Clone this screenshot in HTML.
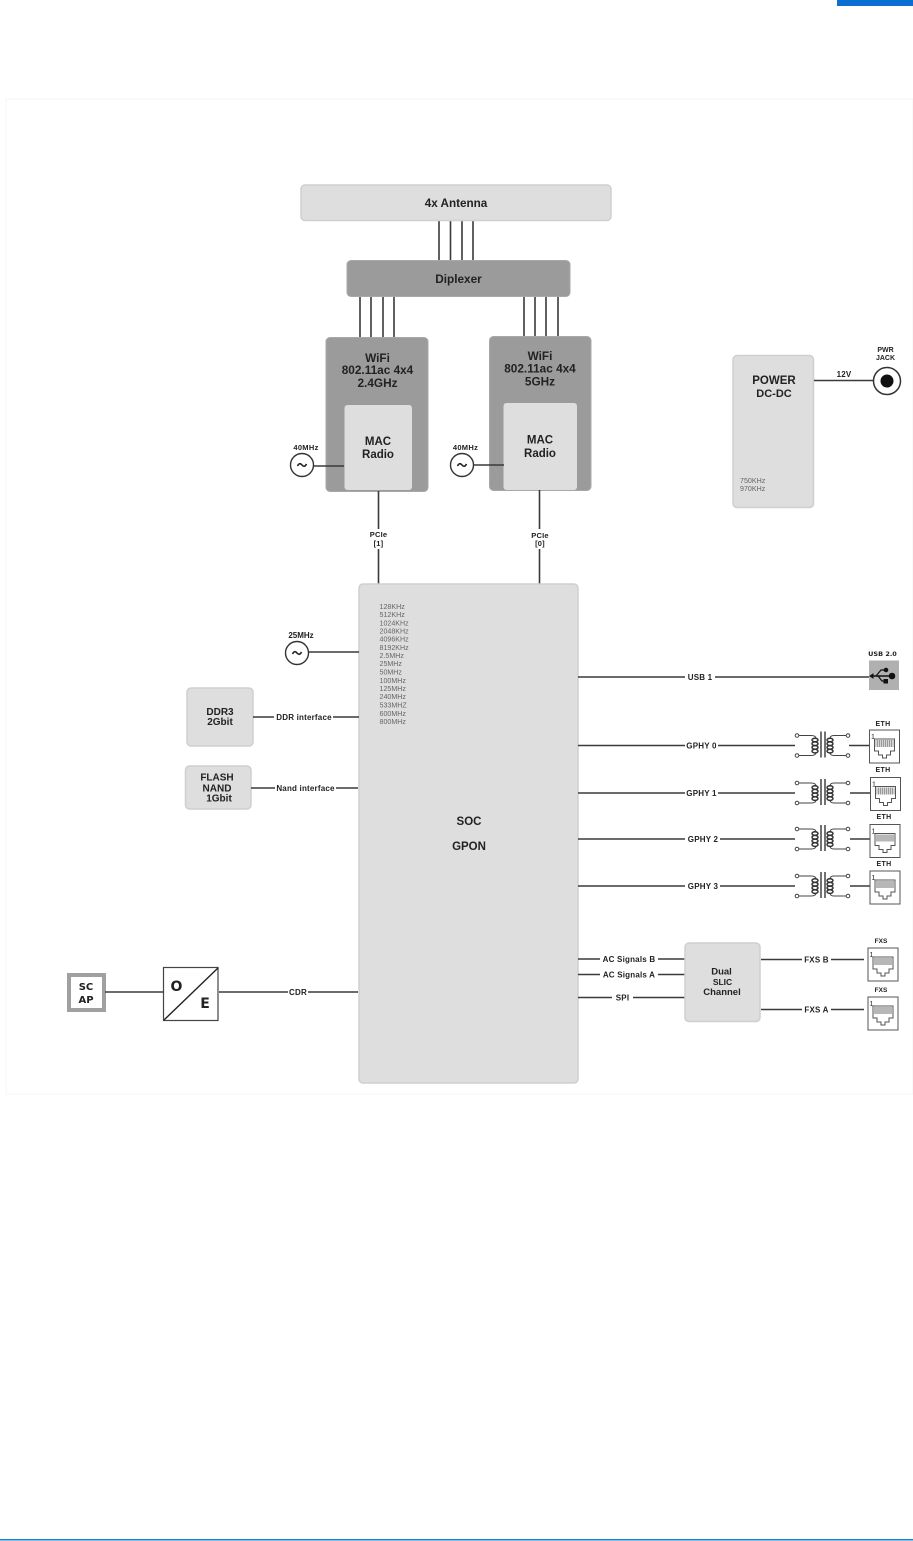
<!DOCTYPE html>
<html><head><meta charset="utf-8"><style>
html,body{margin:0;padding:0;background:#fff}
svg{display:block}
text{font-family:"Liberation Sans",sans-serif;fill:#222;text-anchor:middle}
.b{font-weight:bold}
.l{stroke:#3a3a3a;stroke-width:1.6;fill:none}
.box{fill:#dedede;stroke:#cfcfcf;stroke-width:1.5}
.dk{fill:#9b9b9b;stroke:#a8a8a8;stroke-width:1}
.lab{font-size:8px;font-weight:bold;letter-spacing:.2px}
.f{font-size:7.1px;text-anchor:start;fill:#666}
.diagram{filter:blur(.35px)}
</style></head><body>
<svg width="913" height="1541" viewBox="0 0 913 1541" xmlns="http://www.w3.org/2000/svg">
<defs>
<g id="tr" fill="none" stroke="#444" stroke-width="1">
<circle cx="0" cy="0" r="1.8" fill="#fff"/><circle cx="0" cy="20" r="1.8" fill="#fff"/>
<circle cx="51" cy="0" r="1.8" fill="#fff"/><circle cx="51" cy="20" r="1.8" fill="#fff"/>
<path d="M2 0H14Q19 0 19 3M2 20H14Q19 20 19 17M49 0H37Q33 0 33 3M49 20H37Q33 20 33 17"/>
<g stroke="#333" stroke-width="1.5">
<ellipse cx="18" cy="4.500" rx="3" ry="1.800"/><ellipse cx="18" cy="8.200" rx="3" ry="1.800"/><ellipse cx="18" cy="11.900" rx="3" ry="1.800"/><ellipse cx="18" cy="15.600" rx="3" ry="1.800"/>
<ellipse cx="33" cy="4.500" rx="3" ry="1.800"/><ellipse cx="33" cy="8.200" rx="3" ry="1.800"/><ellipse cx="33" cy="11.900" rx="3" ry="1.800"/><ellipse cx="33" cy="15.600" rx="3" ry="1.800"/>
</g>
<path d="M24 -4V22M28 -4V22" stroke-width="1.500"/>
</g>
<g id="rj">
<rect x="0" y="0" width="30" height="33" fill="#fff" stroke="#555" stroke-width="1"/>
<path d="M5 9H25V21H21V25H17V28H13V25H9V21H5Z" fill="#fff" stroke="#555" stroke-width="1"/>
<path d="M6 10H24V17H6Z" fill="#999"/>
<path d="M7 10V17M9 10V17M11 10V17M13 10V17M15 10V17M17 10V17M19 10V17M21 10V17M23 10V17" stroke="#eee" stroke-width=".7"/>
<text x="3.500" y="9" style="font-size:7px">1</text>
</g>
<g id="osc"><circle cx="0" cy="0" r="11.500" fill="#fff" stroke="#333" stroke-width="1.400"/>
<path d="M-4.500 1Q-2.500 -3 0 0T4.500 -1" fill="none" stroke="#222" stroke-width="1.600"/></g>
</defs>

<rect width="913" height="1541" fill="#fff"/>
<rect x="837" y="0" width="76" height="6" fill="#0a6fd0"/>
<rect x="0" y="1539" width="913" height="1.500" fill="#1a7fc8"/>
<rect x="6" y="99" width="907" height="995" fill="none" stroke="#f6f6f6" stroke-width="1"/>

<g class="diagram">
<!-- Antenna / Diplexer lines -->
<path class="l" d="M439 221V261M450.500 221V261M462 221V261M473 221V261"/>
<path class="l" d="M360 297V337M371 297V337M383 297V337M394 297V337M524 297V336M535 297V336M546 297V336M558 297V336"/>
<rect class="box" x="301" y="185" width="310" height="35.500" rx="4"/>
<text class="b" x="456" y="207" style="font-size:11.700px">4x Antenna</text>
<rect class="dk" x="347" y="260.500" width="223" height="36" rx="4"/>
<text class="b" x="458.500" y="283" style="font-size:11.800px">Diplexer</text>

<!-- WiFi left -->
<rect class="dk" x="326" y="337.500" width="102" height="154" rx="4"/>
<text class="b" x="377.500" y="362" style="font-size:11.800px">WiFi</text>
<text class="b" x="377.500" y="374" style="font-size:11.800px">802.11ac 4x4</text>
<text class="b" x="377.500" y="387" style="font-size:11.800px">2.4GHz</text>
<rect x="344.500" y="405" width="67.500" height="85" rx="3" fill="#dedede"/>
<text class="b" x="378" y="445" style="font-size:11.500px">MAC</text>
<text class="b" x="378" y="458" style="font-size:11.500px">Radio</text>
<path class="l" d="M313 466H344"/>
<use href="#osc" x="302" y="465"/>
<text class="b" x="306" y="450" style="font-size:7.500px;letter-spacing:.3px">40MHz</text>

<!-- WiFi right -->
<rect class="dk" x="489.500" y="336.500" width="101.500" height="154" rx="4"/>
<text class="b" x="540" y="360" style="font-size:11.800px">WiFi</text>
<text class="b" x="540" y="372.500" style="font-size:11.800px">802.11ac 4x4</text>
<text class="b" x="540" y="385.500" style="font-size:11.800px">5GHz</text>
<rect x="503.500" y="403" width="73.500" height="87" rx="3" fill="#dedede"/>
<text class="b" x="540" y="443.500" style="font-size:11.500px">MAC</text>
<text class="b" x="540" y="457" style="font-size:11.500px">Radio</text>
<path class="l" d="M473 465H504"/>
<use href="#osc" x="462" y="465"/>
<text class="b" x="465.500" y="450" style="font-size:7.500px;letter-spacing:.3px">40MHz</text>

<!-- PCIe -->
<path class="l" d="M378.500 491V529M378.500 549V584M539.500 490V529M539.500 549V584"/>
<text class="lab" x="378.500" y="537" style="font-size:7.500px">PCIe</text><text class="lab" x="378.500" y="546" style="font-size:7.500px">[1]</text>
<text class="lab" x="540" y="538" style="font-size:7.500px">PCIe</text><text class="lab" x="540" y="546" style="font-size:7.500px">[0]</text>

<!-- Power -->
<rect class="box" x="733" y="355.500" width="80.500" height="152" rx="4"/>
<text class="b" x="774" y="384" style="font-size:11.500px">POWER</text>
<text class="b" x="774" y="397" style="font-size:11px">DC-DC</text>
<text class="f" x="740" y="483">750KHz</text><text class="f" x="740" y="491">970KHz</text>
<path class="l" d="M814 380.500H874"/>
<text class="lab" x="844" y="377">12V</text>
<circle cx="887" cy="381" r="13.500" fill="#fff" stroke="#333" stroke-width="1.500"/>
<circle cx="887" cy="381" r="6.500" fill="#111"/>
<text class="b" x="885.500" y="352" style="font-size:7px">PWR</text><text class="b" x="885.500" y="360" style="font-size:7px">JACK</text>

<!-- SOC -->
<rect class="box" x="359" y="584" width="219" height="499" rx="4"/>
<text class="b" x="469" y="825" style="font-size:11.500px">SOC</text>
<text class="b" x="469" y="850" style="font-size:11.500px">GPON</text>
<g>
<text class="f" x="379.500" y="609">128KHz</text><text class="f" x="379.500" y="617">512KHz</text>
<text class="f" x="379.500" y="625.500">1024KHz</text><text class="f" x="379.500" y="633.500">2048KHz</text>
<text class="f" x="379.500" y="641.500">4096KHz</text><text class="f" x="379.500" y="650">8192KHz</text>
<text class="f" x="379.500" y="658">2.5MHz</text><text class="f" x="379.500" y="666">25MHz</text>
<text class="f" x="379.500" y="674.500">50MHz</text><text class="f" x="379.500" y="683">100MHz</text>
<text class="f" x="379.500" y="691">125MHz</text><text class="f" x="379.500" y="699">240MHz</text>
<text class="f" x="379.500" y="707.500">533MHZ</text><text class="f" x="379.500" y="716">600MHz</text>
<text class="f" x="379.500" y="724">800MHz</text>
</g>

<!-- Left side -->
<path class="l" d="M309 652H359"/>
<use href="#osc" x="297" y="653"/>
<text class="b" x="301" y="638" style="font-size:8px">25MHz</text>
<rect class="box" x="187" y="688" width="66" height="58" rx="4"/>
<text class="b" x="220" y="715" style="font-size:10px">DDR3</text><text class="b" x="220" y="725" style="font-size:10px">2Gbit</text>
<path class="l" d="M253 717H274M333 717H359"/>
<text class="lab" x="304" y="720">DDR interface</text>
<rect class="box" x="185.500" y="766" width="65.500" height="43" rx="4"/>
<text class="b" x="217" y="780.500" style="font-size:10px">FLASH</text><text class="b" x="217" y="791.500" style="font-size:10px">NAND</text><text class="b" x="219" y="801.500" style="font-size:10px">1Gbit</text>
<path class="l" d="M251 788H275M336 788H358"/>
<text class="lab" x="305.500" y="791">Nand interface</text>

<!-- SC / O-E -->
<rect x="69" y="975" width="35" height="35" fill="#fff" stroke="#a0a0a0" stroke-width="4"/>
<text class="b" x="86" y="990" style="font-size:10px;font-family:'DejaVu Sans',sans-serif">SC</text>
<text class="b" x="86" y="1003" style="font-size:10px;font-family:'DejaVu Sans',sans-serif">AP</text>
<path class="l" d="M105 992H163M219 992H288M308 992H358"/>
<rect x="163.500" y="967.500" width="54.500" height="53" fill="#fff" stroke="#444" stroke-width="1.200"/>
<path d="M164 1020L218 968" stroke="#222" stroke-width="1.400"/>
<text class="b" x="176.500" y="991" style="font-size:14px;font-family:'DejaVu Sans',sans-serif">O</text>
<text class="b" x="205" y="1008" style="font-size:14px;font-family:'DejaVu Sans',sans-serif">E</text>
<text class="lab" x="298" y="995">CDR</text>

<!-- Right side -->
<path class="l" d="M578 677H685M715 677H869"/>
<text class="lab" x="700" y="680">USB 1</text>
<text class="b" x="882.500" y="656" style="font-size:6.500px;font-family:'DejaVu Sans',sans-serif">USB 2.0</text>
<rect x="869" y="660.500" width="30" height="29.500" fill="#b0b0b0"/>
<g fill="#111" stroke="#111">
<path d="M871 676H893" stroke-width="1.500" fill="none"/>
<circle cx="892" cy="676" r="2.800"/>
<path d="M876 676L881 670H885M878 676L882 681H885" fill="none" stroke-width="1.200"/>
<circle cx="886" cy="670" r="1.800"/><rect x="884" y="679.500" width="3.500" height="3.500"/>
<path d="M870 676L873 674V678Z"/>
</g>

<path class="l" d="M578 745.500H685M718 745.500H795M578 793H685M718 793H795M578 839H685M720 839H795M578 886H685M720 886H795"/>
<text class="lab" x="701.500" y="748.500">GPHY 0</text>
<text class="lab" x="701.500" y="796">GPHY 1</text>
<text class="lab" x="703" y="842">GPHY 2</text>
<text class="lab" x="703" y="889">GPHY 3</text>
<use href="#tr" x="797" y="735.500"/><use href="#tr" x="797" y="783"/><use href="#tr" x="797" y="829"/><use href="#tr" x="797" y="876"/>
<path class="l" d="M849 745.500H869M850 793H870M850 839H870M850 886H870"/>
<use href="#rj" x="869.500" y="730"/><use href="#rj" x="870.500" y="777.500"/><use href="#rj" x="870" y="824.500"/><use href="#rj" x="870" y="871"/>
<text class="b" x="883" y="726" style="font-size:7px;letter-spacing:.3px">ETH</text>
<text class="b" x="883" y="772" style="font-size:7px;letter-spacing:.3px">ETH</text>
<text class="b" x="884" y="819" style="font-size:7px;letter-spacing:.3px">ETH</text>
<text class="b" x="884" y="866" style="font-size:7px;letter-spacing:.3px">ETH</text>

<path class="l" d="M578 959H600M658 959H685M578 974.500H600M658 974.500H685M578 997.500H612M633 997.500H685"/>
<text class="lab" x="629" y="962">AC Signals B</text>
<text class="lab" x="629" y="977.500">AC Signals A</text>
<text class="lab" x="622.500" y="1000.500">SPI</text>
<rect class="box" x="685" y="943" width="75" height="78.500" rx="4"/>
<text class="b" x="721.500" y="974.500" style="font-size:9.500px">Dual</text>
<text class="b" x="722.500" y="985" style="font-size:8.500px">SLIC</text>
<text class="b" x="722" y="995" style="font-size:9.500px">Channel</text>
<path class="l" d="M761 959.500H802M831 959.500H864M761 1009.500H802M831 1009.500H864"/>
<text class="lab" x="816.500" y="962.500">FXS B</text>
<text class="lab" x="816.500" y="1012.500">FXS A</text>
<use href="#rj" x="868" y="948"/><use href="#rj" x="868" y="997"/>
<text class="b" x="881" y="943" style="font-size:6.500px">FXS</text>
<text class="b" x="881" y="992" style="font-size:6.500px">FXS</text>
</g>
</svg>
</body></html>
